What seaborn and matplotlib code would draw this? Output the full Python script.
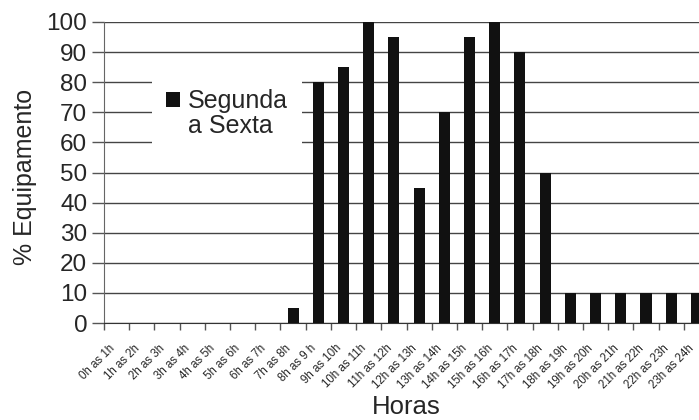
import matplotlib
matplotlib.use('Agg')
import matplotlib.pyplot as plt
import seaborn as sns
import pandas as pd
from matplotlib.patches import Patch
from matplotlib.ticker import FixedLocator
from matplotlib.transforms import ScaledTranslation

# dados
horas = ["0h as 1h", "1h as 2h", "2h as 3h", "3h as 4h", "4h as 5h", "5h as 6h",
         "6h as 7h", "7h as 8h", "8h as 9 h", "9h as 10h", "10h as 11h", "11h as 12h",
         "12h as 13h", "13h as 14h", "14h as 15h", "15h as 16h", "16h as 17h", "17h as 18h",
         "18h as 19h", "19h as 20h", "20h as 21h", "21h as 22h", "22h as 23h", "23h as 24h"]
equipamento = [0, 0, 0, 0, 0, 0, 0, 5, 80, 85, 100, 95,
               45, 70, 95, 100, 90, 50, 10, 10, 10, 10, 10, 10]
serie = "Segunda"
serie2 = "a Sexta"
yticks = [0, 10, 20, 30, 40, 50, 60, 70, 80, 90, 100]

df = pd.DataFrame({'hora': horas, 'valor': equipamento})

sns.set_style('white')
plt.rcParams['font.family'] = ['Liberation Sans', 'DejaVu Sans']

fig = plt.figure(figsize=(6.99, 4.20), dpi=100)
# o eixo passa da borda direita como no original
ax = fig.add_axes([104 / 699, 97 / 420, 605 / 699, 301 / 420])

sns.barplot(data=df, x='hora', y='valor', color='#111111', saturation=1,
            width=0.44, ax=ax, zorder=3, linewidth=0, edgecolor='none')

ax.set_ylim(0, 100)
ax.set_xlim(-0.5, len(horas) - 0.5)
ax.set_yticks(yticks)
ax.set_yticklabels([str(v) for v in yticks], fontsize=17.5)
ax.yaxis.grid(True, color='#444444', linewidth=1)
ax.set_axisbelow(True)

ax.set_xticks(range(len(horas)))
ax.set_xticklabels(horas, rotation=45, ha='right', va='center',
                   rotation_mode='anchor', fontsize=8.3)
ax.tick_params(axis='x', which='major', length=0, pad=17)
desloc = ScaledTranslation(-4 / 100, 0, fig.dpi_scale_trans)
for lbl in ax.get_xticklabels():
    lbl.set_transform(lbl.get_transform() + desloc)
ax.xaxis.set_minor_locator(FixedLocator([i - 0.5 for i in range(len(horas) + 1)]))
ax.tick_params(axis='x', which='minor', length=5, width=1, color='#555555', direction='out', bottom=True)
ax.tick_params(axis='y', length=9, width=1, color='#555555', direction='out', left=True, pad=3)

for s in ['top', 'right']:
    ax.spines[s].set_visible(False)
ax.spines['left'].set_color('#666666')
ax.spines['bottom'].set_color('#333333')

ax.set_ylabel('% Equipamento', fontsize=18)
ax.yaxis.set_label_coords(-0.111, 0.485)
ax.set_xlabel('Horas', fontsize=18.5, va='top')
ax.xaxis.set_label_coords(0.499, -0.240)

handles = [Patch(facecolor='#111111', edgecolor='none'), Patch(facecolor='none', edgecolor='none')]
leg = ax.legend(handles, [serie, serie2], loc='upper left', bbox_to_anchor=(0.079, 0.824),
                fontsize=18, frameon=True, facecolor='white', edgecolor='none', framealpha=1,
                fancybox=False, handlelength=0.56, handleheight=0.56, handletextpad=0.32,
                labelspacing=0.05, borderpad=0.56, borderaxespad=0)
leg.set_zorder(5)

fig.savefig('out.png', dpi=100)
